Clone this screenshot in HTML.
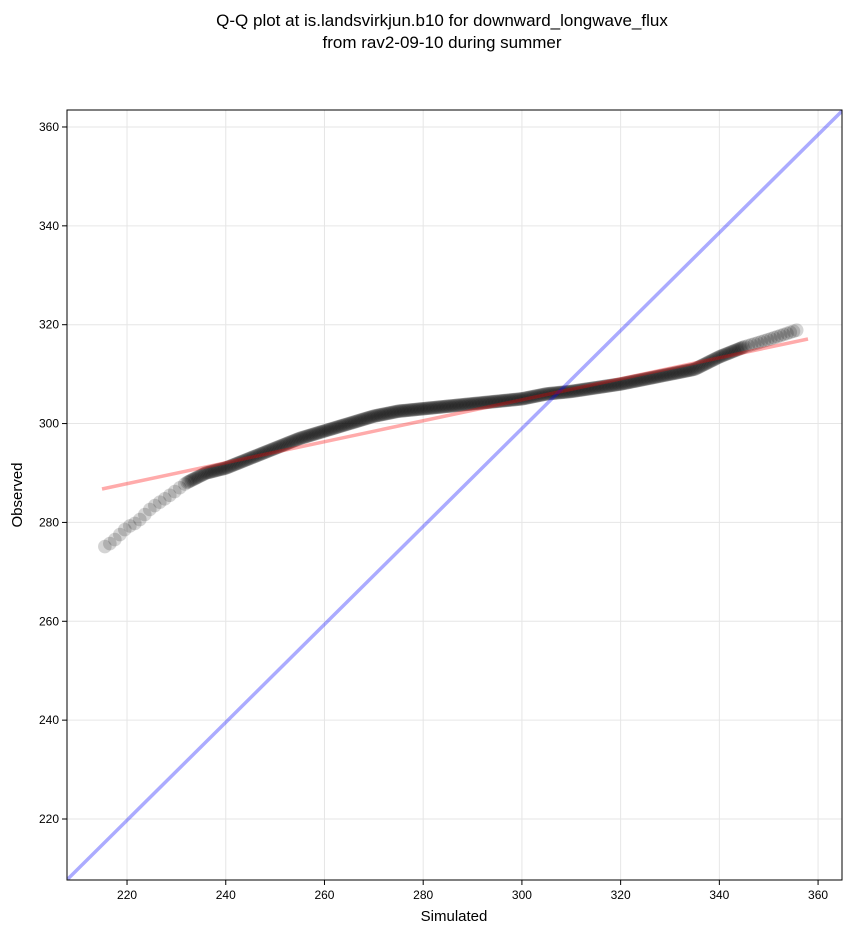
<!DOCTYPE html>
<html><head><meta charset="utf-8"><style>
html,body{margin:0;padding:0;background:#fff;}
svg{display:block;font-family:"Liberation Sans","DejaVu Sans",sans-serif;}
</style></head><body>
<svg id="s" width="851" height="934" viewBox="0 0 851 934" xmlns="http://www.w3.org/2000/svg">
<rect width="851" height="934" fill="#fff"/>
<text x="442" y="26" font-size="17" text-anchor="middle">Q-Q plot at is.landsvirkjun.b10 for downward_longwave_flux</text>
<text x="442" y="48" font-size="17" text-anchor="middle">from rav2-09-10 during summer</text>
<defs><clipPath id="c"><rect x="67" y="110" width="775" height="770"/></clipPath></defs>
<g id="grid" stroke="#e6e6e6" stroke-width="1"></g>
<g id="pts" clip-path="url(#c)"></g>
<g clip-path="url(#c)">
<line x1="67.8" y1="879" x2="842" y2="111" stroke="#0000ff" stroke-opacity="0.33" stroke-width="3.5"/>
<line x1="102" y1="489" x2="808" y2="339" stroke="#ff0000" stroke-opacity="0.33" stroke-width="3.5"/>
</g>
<rect x="67" y="110" width="775" height="770" fill="none" stroke="#000" stroke-width="1"/>
<g id="ticks" font-size="12"></g>
<text x="454" y="921" font-size="15" text-anchor="middle">Simulated</text>
<text x="22" y="495" font-size="15" text-anchor="middle" transform="rotate(-90 22 495)">Observed</text>
</svg>
<script>
var NS="http://www.w3.org/2000/svg";
function px(x){return 67.8+(x-208)*4.936;}
function py(y){return 819-(y-220)*4.943;}
function el(p,t,a){var e=document.createElementNS(NS,t);for(var k in a)e.setAttribute(k,a[k]);p.appendChild(e);return e;}
var g=document.getElementById('grid'),tk=document.getElementById('ticks');
for(var v=220;v<=360;v+=20){
 var X=px(v),Y=py(v);
 el(g,'line',{x1:X,y1:110,x2:X,y2:880});
 el(g,'line',{x1:67,y1:Y,x2:842,y2:Y});
 el(tk,'line',{x1:X,y1:880,x2:X,y2:885,stroke:'#000'});
 el(tk,'line',{x1:62,y1:Y,x2:67,y2:Y,stroke:'#000'});
 el(tk,'text',{x:X,y:899,'text-anchor':'middle'}).textContent=v;
 el(tk,'text',{x:59,y:Y+4,'text-anchor':'end'}).textContent=v;
}
var cv=[[215,272],[215.3,275],[217,276],[219,278],[220,279],[222,280],[225,283],[228,285],[232,288],[236,290],[240,291],[245,293],[250,295],[255,297],[260,298.5],[265,300],[270,301.5],[275,302.5],[280,303],[290,304],[300,305],[305,306],[310,306.5],[320,308],[330,310],[335,311],[340,313.5],[345,315.5],[350,317],[356,319]];
function f(x){for(var i=1;i<cv.length;i++){if(x<=cv[i][0]){var a=cv[i-1],b=cv[i];var t=(x-a[0])/((b[0]-a[0])||1);return a[1]+t*(b[1]-a[1]);}}return cv[cv.length-1][1];}
var P=document.getElementById('pts'),N=420;
for(var i=0;i<N;i++){var p=(i+0.5)/N,x;
 if(p<0.04)x=215+(p/0.04)*17;
 else if(p>0.96)x=345+((p-0.96)/0.04)*11;
 else x=232+(p-0.04)/0.92*113;
 el(P,'circle',{cx:px(x),cy:py(f(x)),r:6.8,fill:'#000','fill-opacity':0.17});}
</script>
</body></html>
